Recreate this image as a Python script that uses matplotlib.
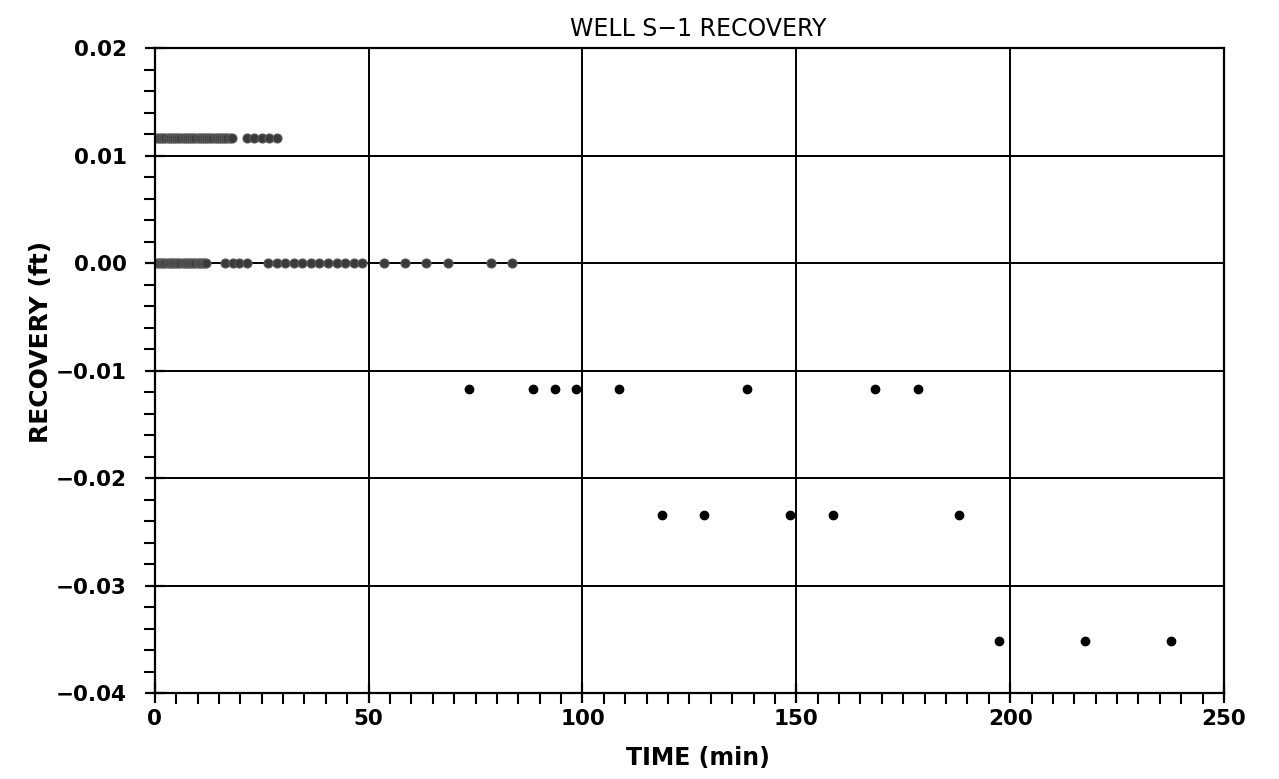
import matplotlib
matplotlib.use("Agg")
import matplotlib.pyplot as plt
from matplotlib.ticker import MultipleLocator

# recovery readings (ft) vs time since pumping stopped (min)
t_up = [0.5, 1.0, 1.5, 2.0, 2.5, 3.0, 3.5, 4.0, 4.5, 5.0, 5.5, 6.0, 6.5, 7.0,
        7.5, 8.0, 8.5, 9.0, 9.5, 10.0, 10.5, 11.0, 11.5, 12.0, 12.5, 13.0,
        13.5, 14.0, 14.5, 15.0, 15.5, 16.0, 16.5, 17.0, 17.5, 18.0,
        21.5, 23.3, 25.0, 26.8, 28.5]
t_zero = [0.5, 1.0, 1.5, 2.0, 2.5, 3.0, 3.5, 4.0, 4.5, 5.0, 5.5, 6.0, 6.5,
          7.0, 7.5, 8.0, 8.5, 9.0, 9.5, 10.0, 10.5, 11.0, 11.5, 12.0,
          16.5, 18.2, 19.8, 21.5,
          26.5, 28.5, 30.5, 32.5, 34.5, 36.5, 38.5, 40.5, 42.5, 44.5, 46.5, 48.5,
          53.5, 58.5, 63.5, 68.5, 78.5, 83.5]
t_down1 = [73.5, 88.5, 93.5, 98.5, 108.5, 138.5, 168.5, 178.5]
t_down2 = [118.5, 128.5, 148.5, 158.5, 188.0]
t_down3 = [197.5, 217.5, 237.5]

step = 0.0117
rec_up = [step] * len(t_up)
rec_zero = [0.0] * len(t_zero)
rec_down1 = [-step] * len(t_down1)
rec_down2 = [-2 * step] * len(t_down2)
rec_down3 = [-3 * step] * len(t_down3)

plt.rcParams['font.family'] = ['DejaVu Sans']

fig = plt.figure(figsize=(12.79, 7.79), dpi=100)
ax = fig.add_axes([0.121, 0.110, 0.836, 0.828])

dense = dict(linestyle='none', marker='o', markersize=6.5, color='#3a3a3a',
             markeredgecolor='#5a5a5a', markeredgewidth=0.8)
ax.plot(t_up, rec_up, **dense)
ax.plot(t_zero, rec_zero, **dense)
for t, r in [(t_down1, rec_down1), (t_down2, rec_down2), (t_down3, rec_down3)]:
    ax.plot(t, r, linestyle='none', marker='o', markersize=6, color='black')

ax.set_xlim(0, 250)
ax.set_ylim(-0.04, 0.02)
ax.xaxis.set_major_locator(MultipleLocator(50))
ax.xaxis.set_minor_locator(MultipleLocator(5))
ax.yaxis.set_major_locator(MultipleLocator(0.01))
ax.yaxis.set_minor_locator(MultipleLocator(0.002))
ax.set_yticks([0.02, 0.01, 0.0, -0.01, -0.02, -0.03, -0.04])
ax.set_yticklabels(['0.02', '0.01', '0.00', '\u22120.01', '\u22120.02',
                    '\u22120.03', '\u22120.04'])

ax.grid(True, which='major', color='black', linewidth=1.4)
for s in ax.spines.values():
    s.set_linewidth(1.6)
ax.tick_params(which='major', direction='inout', length=14, width=1.6,
               labelsize=15.5, pad=4)
ax.tick_params(axis='y', which='major', pad=13)
ax.tick_params(which='minor', direction='out', length=8, width=1.5)
for lab in ax.get_xticklabels() + ax.get_yticklabels():
    lab.set_fontweight('bold')

ax.text(0.508, 1.012, 'WELL S\u22121 RECOVERY', transform=ax.transAxes,
        ha='center', va='bottom', fontsize=17)
ax.set_xlabel('TIME (min)', fontsize=17, fontweight='bold')
ax.xaxis.set_label_coords(0.508, -0.082)
ax.set_ylabel('RECOVERY (ft)', fontsize=18, fontweight='bold')
ax.yaxis.set_label_coords(-0.095, 0.544)

fig.savefig('out.png', dpi=100)
